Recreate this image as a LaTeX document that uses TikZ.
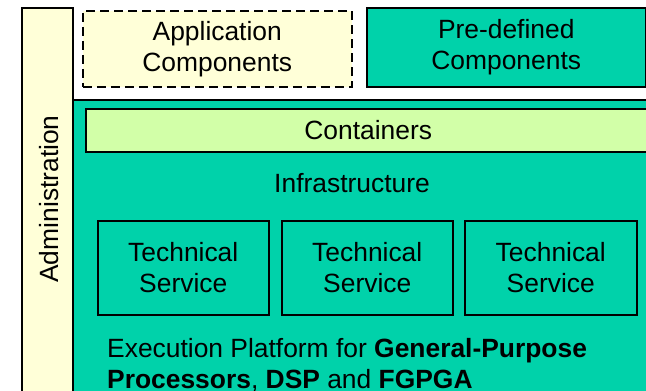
\documentclass[tikz,border=0pt]{standalone}
\usepackage{fontspec}
\setmainfont{Liberation Sans}
\definecolor{tealfill}{HTML}{00D2AA}
\definecolor{paleyellow}{HTML}{FFFFD8}
\definecolor{palegreen}{HTML}{D2FFA8}
\tikzset{
  blk/.style={draw=black, line width=1.5pt, anchor=north west, inner sep=0pt, align=center},
  txt/.style={inner sep=0pt},
}
\begin{document}
\begin{tikzpicture}[x=1pt,y=-1pt,font=\fontsize{26.4}{31}\selectfont]
\useasboundingbox (0,0) rectangle (646,391);
\clip (0,0) rectangle (646,391);
\fill[white] (0,0) rectangle (646,391);
% infrastructure region
\node[blk, fill=tealfill, minimum width=590pt, minimum height=310pt] (infra) at (72,99) {};
% administration column
\node[blk, fill=paleyellow, minimum width=51pt, minimum height=400pt] (admin) at (21,7) {};
\node[txt, rotate=90] (admintext) at (49,199) {Administration};
% top components
\node[blk, fill=paleyellow, dashed, dash pattern=on 9pt off 5pt, minimum width=269pt, minimum height=76pt] (app) at (82,10) {Application\\Components};
\node[blk, fill=tealfill, minimum width=279pt, minimum height=79pt] (pre) at (366,7) {Pre-defined\\Components};
% containers
\node[blk, fill=palegreen, minimum width=565pt, minimum height=43pt] (cont) at (85,108) {Containers};
\node[txt] (infratext) at (352,183) {Infrastructure};
% technical services
\node[blk, fill=tealfill, minimum width=171pt, minimum height=94pt] (ts1) at (97,220) {Technical\\Service};
\node[blk, fill=tealfill, minimum width=171pt, minimum height=94pt] (ts2) at (281,220) {Technical\\Service};
\node[blk, fill=tealfill, minimum width=172pt, minimum height=94pt] (ts3) at (464,220) {Technical\\Service};
% execution platform
\node[txt, anchor=base west] (exec1) at (107,357) {Execution Platform for \textbf{General-Purpose}};
\node[txt, anchor=base west] (exec2) at (107,388) {\textbf{Processors}, \textbf{DSP} and \textbf{FGPGA}};
\end{tikzpicture}
\end{document}
